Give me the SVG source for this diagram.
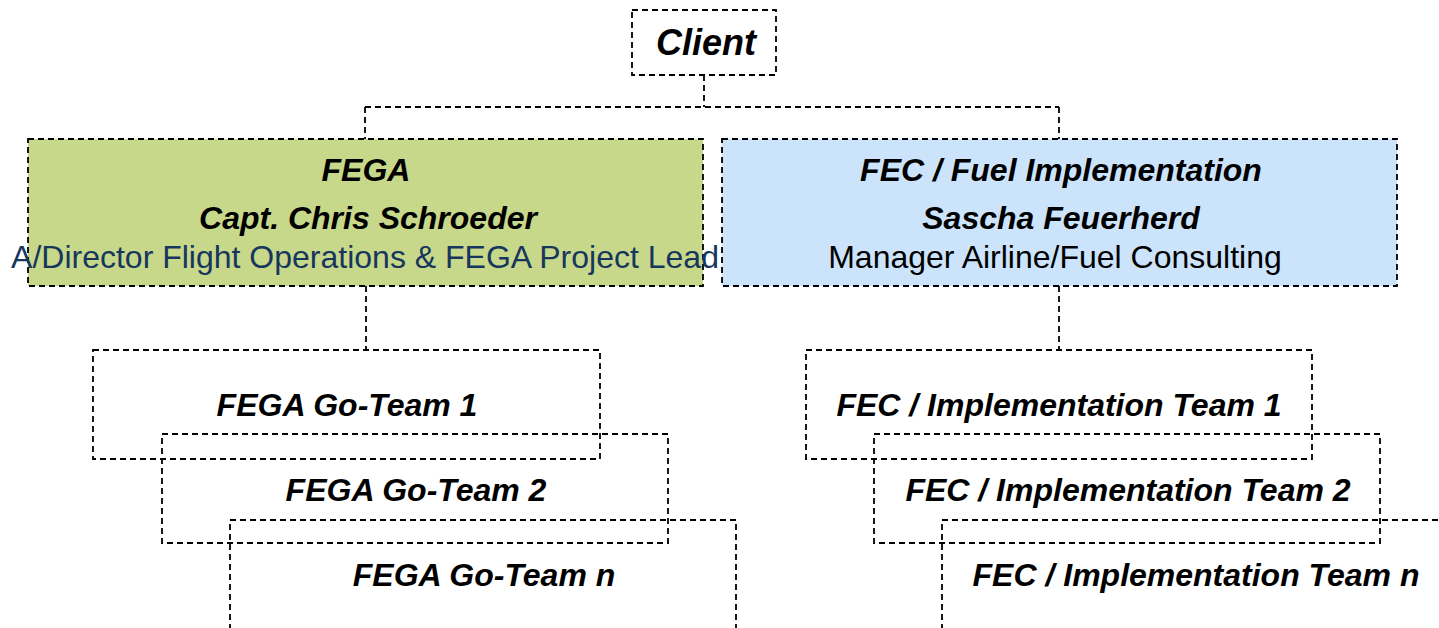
<svg xmlns="http://www.w3.org/2000/svg" width="1439" height="628" viewBox="0 0 1439 628">
  <style>
    .box { fill: none; stroke: #000; stroke-width: 1.8; stroke-dasharray: 6 4; }
    .conn { fill: none; stroke: #000; stroke-width: 1.8; stroke-dasharray: 6 4; }
    .t { font-family: "Liberation Sans", Arial, sans-serif; text-anchor: middle; }
    .bi { font-weight: bold; font-style: italic; font-size: 32px; fill: #000; }
    .reg { font-size: 32px; fill: #000; }
  </style>
  <rect width="1439" height="628" fill="#fff"/>

  <!-- connectors -->
  <g id="connectors">
    <path class="conn" d="M704 75 V107"/>
    <path class="conn" d="M365 107 H1059"/>
    <path class="conn" d="M365 107 V139"/>
    <path class="conn" d="M1059 107 V139"/>
    <path class="conn" d="M366 286 V350"/>
    <path class="conn" d="M1059 286 V350"/>
  </g>

  <g id="client">
    <rect class="box" x="632" y="10" width="144" height="65"/>
    <text class="t bi" x="706" y="55" style="font-size:36px">Client</text>
  </g>

  <g id="fega">
    <rect class="box" x="28" y="139" width="675" height="147" style="fill:#C8D88A"/>
    <text class="t bi" x="366" y="181">FEGA</text>
    <text class="t bi" x="368" y="229">Capt. Chris Schroeder</text>
    <text class="t reg" x="365" y="268" style="fill:#17365D">A/Director Flight Operations &amp; FEGA Project Lead</text>
  </g>

  <g id="fec">
    <rect class="box" x="722" y="139" width="675" height="147" style="fill:#CCE4FB"/>
    <text class="t bi" x="1061" y="181">FEC / Fuel Implementation</text>
    <text class="t bi" x="1061" y="229">Sascha Feuerherd</text>
    <text class="t reg" x="1055" y="268">Manager Airline/Fuel Consulting</text>
  </g>

  <g id="fega-team-1">
    <rect class="box" x="93" y="350" width="507" height="109"/>
    <text class="t bi" x="347" y="416">FEGA Go-Team 1</text>
  </g>
  <g id="fega-team-2">
    <rect class="box" x="162" y="434" width="506" height="109"/>
    <text class="t bi" x="416" y="501">FEGA Go-Team 2</text>
  </g>
  <g id="fega-team-n">
    <rect class="box" x="230" y="520" width="506" height="109"/>
    <text class="t bi" x="484" y="586">FEGA Go-Team n</text>
  </g>

  <g id="fec-team-1">
    <rect class="box" x="806" y="350" width="506" height="109"/>
    <text class="t bi" x="1059" y="416">FEC / Implementation Team 1</text>
  </g>
  <g id="fec-team-2">
    <rect class="box" x="874" y="434" width="506" height="109"/>
    <text class="t bi" x="1128" y="501">FEC / Implementation Team 2</text>
  </g>
  <g id="fec-team-n">
    <rect class="box" x="942" y="520" width="506" height="109"/>
    <text class="t bi" x="1196" y="586">FEC / Implementation Team n</text>
  </g>
</svg>
